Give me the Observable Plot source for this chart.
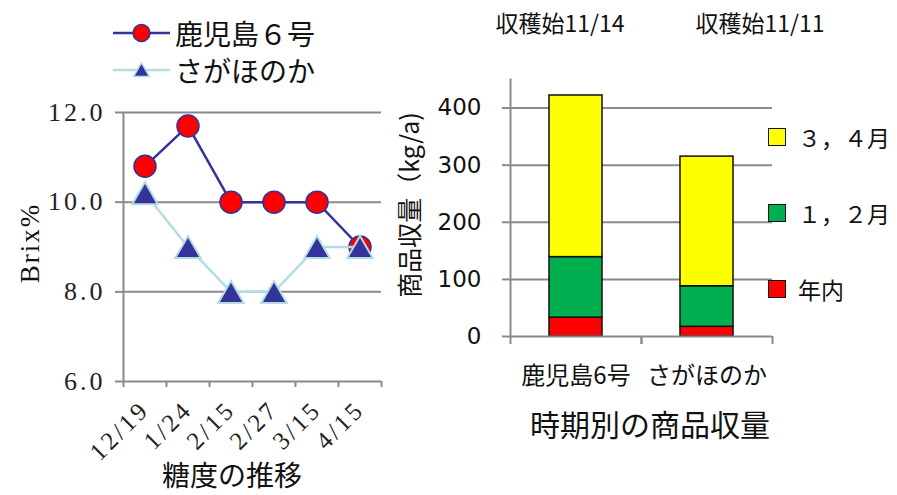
<!DOCTYPE html>
<html>
<head>
<meta charset="utf-8">
<script src="https://cdn.jsdelivr.net/npm/d3@7"></script>
<script src="https://cdn.jsdelivr.net/npm/@observablehq/plot@0.6"></script>
<style>
  html, body { margin: 0; padding: 0; background: #fff; }
  #wrap { position: relative; width: 897px; height: 495px; overflow: hidden; background: #fff; }
  #wrap > svg { position: absolute; top: 0; }
  .lbl { position: absolute; white-space: nowrap; color: #111; font-family: "Noto Sans CJK JP", sans-serif; line-height: 1; }
</style>
</head>
<body>
<div id="wrap"></div>
<script>
// ---- Left chart data: Brix% over time ----
const dates = ["12/19", "1/24", "2/15", "2/27", "3/15", "4/15"];
const kagoshima = [10.8, 11.7, 10.0, 10.0, 10.0, 9.0];
const sagahonoka = [10.2, 9.0, 8.0, 8.0, 9.0, 9.0];
const brixTicks = [6, 8, 10, 12];
const lineSeries = ["鹿児島６号", "さがほのか"];

// ---- Right chart data: yield by period ----
const varieties = ["鹿児島6号", "さがほのか"];
const periods = ["年内", "１，２月", "３，４月"];
const yieldNennai = [33, 17];
const yieldJanFeb = [106, 71];
const yieldMarApr = [283, 227];
const yieldTicks = [0, 100, 200, 300, 400];
const harvestStart = ["収穫始11/14", "収穫始11/11"];

const wrap = document.getElementById("wrap");
const gray = "#8a8a8a";
const navy = "#333399";
const cyan = "#b4dde2";

// ---------- Left chart ----------
const idx = dates.map((d, i) => i);
const bounds = d3.range(dates.length + 1).map(i => i - 0.5);
const triR = 9.5;
// d3 triangles are centred on their centroid; shift so the box centre sits on the value
const triShift = Math.sqrt(Math.PI * triR * triR / (3 * Math.sqrt(3))) / 2;

const left = Plot.plot({
  width: 400, height: 495,
  marginLeft: 123, marginRight: 19, marginTop: 112, marginBottom: 114,
  style: { fontFamily: "'Liberation Serif', serif", fontSize: "26px", letterSpacing: "3px", color: "#222", background: "transparent", overflow: "visible" },
  x: { domain: [-0.5, dates.length - 0.5], axis: null },
  y: { domain: [6, 12], axis: null },
  marks: [
    Plot.gridY(brixTicks.filter(t => t > 6), { stroke: gray, strokeOpacity: 1, strokeWidth: 2 }),
    Plot.ruleY([6], { stroke: gray, strokeWidth: 2 }),
    Plot.ruleX([-0.5], { stroke: gray, strokeWidth: 2 }),
    Plot.axisY({ ticks: brixTicks, tickSize: 8, tickPadding: 10, stroke: gray, strokeWidth: 2, tickFormat: d => d.toFixed(1), label: null, fontSize: 26 }),
    Plot.axisX({ ticks: bounds, tickSize: 6, tickFormat: () => "", label: null, stroke: gray, strokeWidth: 2 }),
    Plot.axisX({ ticks: idx, tickSize: 0, tickRotate: -45, tickPadding: 24, tickFormat: i => dates[i], label: null, fontSize: 25 }),
    Plot.line(idx, { x: i => i, y: i => kagoshima[i], stroke: navy, strokeWidth: 2.5 }),
    Plot.dot(idx, { x: i => i, y: i => kagoshima[i], r: 11, fill: "#ff0000", stroke: navy, strokeWidth: 1.5 }),
    Plot.line(idx, { x: i => i, y: i => sagahonoka[i], stroke: cyan, strokeWidth: 2.5 }),
    Plot.dot(idx, { x: i => i, y: i => sagahonoka[i], symbol: "triangle", r: triR, dy: triShift, fill: navy, stroke: cyan, strokeWidth: 2 })
  ]
});
left.style.left = "0px";
wrap.appendChild(left);

// ---------- Right chart ----------
const rows = varieties.flatMap((v, i) => [
  { variety: v, period: periods[0], value: yieldNennai[i] },
  { variety: v, period: periods[1], value: yieldJanFeb[i] },
  { variety: v, period: periods[2], value: yieldMarApr[i] }
]);
const RW = 497, rml = 110, rmr = 125;
const bw = (RW - rml - rmr) / varieties.length;

const right = Plot.plot({
  width: RW, height: 495,
  marginLeft: rml, marginRight: rmr, marginTop: 79, marginBottom: 159,
  style: { fontFamily: "'DejaVu Sans', Verdana, sans-serif", fontSize: "23px", color: "#111", background: "transparent", overflow: "visible" },
  x: { domain: varieties, padding: 0, axis: null },
  y: { domain: [0, 450], axis: null },
  color: { domain: periods, range: ["#ff0000", "#00b050", "#ffff00"] },
  marks: [
    Plot.gridY(yieldTicks.filter(t => t > 0), { stroke: gray, strokeOpacity: 1, strokeWidth: 2 }),
    Plot.axisY({ ticks: yieldTicks, tickSize: 8, tickPadding: 21, stroke: gray, strokeWidth: 2, label: null }),
    Plot.frame({ anchor: "left", stroke: gray, strokeWidth: 2 }),
    Plot.barY(rows, { x: "variety", y: "value", fill: "period", stroke: "#111", strokeWidth: 1.5, insetLeft: 39, insetRight: 39 }),
    Plot.ruleY([0], { stroke: gray, strokeWidth: 2 }),
    Plot.axisX({ tickSize: 8, tickFormat: () => "", label: null, stroke: gray, strokeWidth: 2, dx: -bw / 2 }),
    Plot.axisX({ tickSize: 8, tickFormat: () => "", label: null, stroke: gray, strokeWidth: 2, dx: bw / 2 }),
    Plot.axisX({ tickSize: 0, tickPadding: 30, label: null, fontFamily: "'Noto Sans CJK JP', sans-serif", fontSize: 24 })
  ]
});
right.style.left = "400px";
wrap.appendChild(right);

// ---------- Text & legends ----------
function addLabel(text, css) {
  const d = document.createElement("div");
  d.className = "lbl";
  d.textContent = text;
  Object.assign(d.style, css);
  wrap.appendChild(d);
  return d;
}

// Left legend
const legSvg = d3.create("svg").attr("width", 70).attr("height", 90)
  .style("position", "absolute").style("left", "105px").style("top", "0px");
legSvg.append("line").attr("x1", 8).attr("x2", 65).attr("y1", 33).attr("y2", 33).attr("stroke", navy).attr("stroke-width", 2.5);
legSvg.append("circle").attr("cx", 36.5).attr("cy", 33).attr("r", 8.5).attr("fill", "#ff0000").attr("stroke", navy).attr("stroke-width", 1.5);
legSvg.append("line").attr("x1", 8).attr("x2", 65).attr("y1", 70).attr("y2", 70).attr("stroke", cyan).attr("stroke-width", 2.5);
legSvg.append("path").attr("d", d3.symbol(d3.symbolTriangle, 110)()).attr("transform", "translate(36.5,72)").attr("fill", navy).attr("stroke", cyan).attr("stroke-width", 1.5);
wrap.appendChild(legSvg.node());
addLabel(lineSeries[0], { left: "175px", top: "19px", fontSize: "28px" });
addLabel(lineSeries[1], { left: "175px", top: "56px", fontSize: "28px" });

// Left axis titles
addLabel("Brix%", { left: "30px", top: "243px", fontSize: "27px", fontFamily: "'Liberation Serif', serif", transform: "translate(-50%,-50%) rotate(-90deg)", letterSpacing: "2px" });
addLabel("糖度の推移", { left: "232px", top: "474px", fontSize: "28px", transform: "translate(-50%,-50%)" });

// Right annotations & titles
addLabel(harvestStart[0], { left: "560px", top: "22px", fontSize: "23px", transform: "translate(-50%,-50%)" });
addLabel(harvestStart[1], { left: "760px", top: "22px", fontSize: "23px", transform: "translate(-50%,-50%)" });
addLabel("商品収量（kg/a)", { left: "408px", top: "205px", fontSize: "25px", transform: "translate(-50%,-50%) rotate(-90deg)" });
addLabel("時期別の商品収量", { left: "650px", top: "423px", fontSize: "30px", transform: "translate(-50%,-50%)" });

// Right legend (top to bottom: 3,4月 / 1,2月 / 年内)
const legendColors = { "年内": "#ff0000", "１，２月": "#00b050", "３，４月": "#ffff00" };
const legendY = { "３，４月": 137, "１，２月": 213, "年内": 289 };
periods.forEach(p => {
  const sw = document.createElement("div");
  Object.assign(sw.style, { position: "absolute", left: "768px", top: (legendY[p] - 9) + "px", width: "16px", height: "16px", background: legendColors[p], border: "1.5px solid #111" });
  wrap.appendChild(sw);
  addLabel(p, { left: "798px", top: legendY[p] + "px", fontSize: "23px", transform: "translateY(-50%)" });
});
</script>
</body>
</html>
